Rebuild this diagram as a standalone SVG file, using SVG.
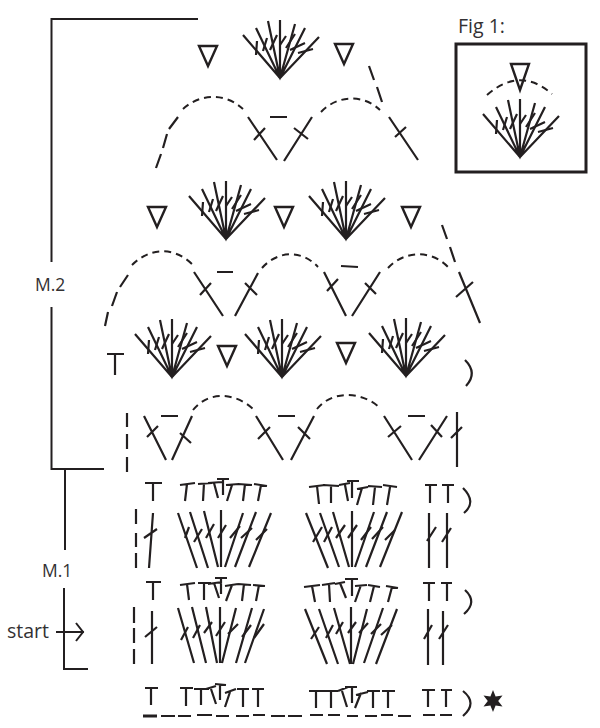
<svg xmlns="http://www.w3.org/2000/svg" xmlns:xlink="http://www.w3.org/1999/xlink" width="600" height="728" viewBox="0 0 600 728">
<style>
path{fill:none;stroke:#231f20;stroke-width:2;stroke-linecap:butt}
.b{stroke-width:2.2}
.d1{stroke-width:2;stroke-dasharray:7 5}
.tri{stroke-width:2.4;stroke-linejoin:miter}
text{font-family:"Open Sans","Liberation Sans",sans-serif;fill:#333133}
.m{font-size:17.5px}
.l{font-size:19.5px}
</style>
<defs>
<g id="fan">
<path class="b" d="M-37,-43L0,0M-24,-50L0,0M-12,-57L0,0M0,-58V0M15,-54L0,0M25,-50L0,0M39,-41L0,0"/>
<path class="b" d="M-24,-23L-23,-37M-17,-27L-13,-40M-10,-28L-3,-43M0,-33L6,-42M6,-30L15,-44M10,-28L25,-35M18,-25L33,-29"/>
<path d="M0,0L-3,-7H3Z" style="fill:#231f20"/>
</g>
<path id="tri" class="tri" d="M-9,0H9L0,20Z"/>
</defs>

<g id="connectors">
<path d="M51.5,262V19H198M51.5,307V469H104M65,469V550M64,588V669H88"/>
<path d="M56,632H84M76,623L83,632L76,641"/>
</g>

<g id="labels">
<text class="m" x="35" y="291">M.2</text>
<text class="m" x="42" y="577">M.1</text>
<text class="l" x="7" y="638">start</text>
<text class="l" x="458" y="33">Fig 1:</text>
</g>

<g id="fig1">
<rect x="456" y="44" width="130" height="128" fill="#fff" stroke="#231f20" stroke-width="3"/>
<path class="tri" d="M511,64H529L520,90Z"/>
<path d="M487,95Q520,66 552,94" class="d1"/>
<use href="#fan" x="520" y="157"/>
</g>

<g id="row-1">
<use href="#tri" x="208" y="46"/>
<use href="#tri" x="344" y="44"/>
<use href="#fan" x="280" y="78"/>
<path class="b" d="M156,168L161,154M163,148L167,134M169,129L178,117"/>
<path class="d1" d="M183,109C197,96 222,90 243,109"/>
<path class="d1" d="M321,112C336,96 362,93 380,110"/>
<path class="b" d="M369,66L374,80M377,87L382,102"/>
<path class="b" d="M248,117L277,160M254,140L265,128M270,117H287M312,117L284,161M294,128L308,139M389,117L418,160M395,137L406,127"/>
</g>

<g id="row-2">
<use href="#tri" x="157" y="207"/>
<use href="#tri" x="284" y="207"/>
<use href="#tri" x="411" y="207"/>
<use href="#fan" x="226" y="239"/>
<use href="#fan" x="346" y="239"/>
<path class="b" d="M105,326L108,312M112,306L117,292M120,287L128,275"/>
<path class="d1" d="M132,265C148,249 172,245 192,264"/>
<path class="d1" d="M262,268C276,252 300,248 318,267"/>
<path class="d1" d="M388,268C402,252 430,248 448,267"/>
<path class="b" d="M442,225L447,239M450,247L455,262"/>
<path class="b" d="M194,272L223,316M200,295L211,283M217,272H233M258,273L235,316M245,283L257,295M324,272L346,316M327,291L338,279M341,266L358,267M380,272L352,316M365,283L376,294M459,272L480,323M456,297L473,282"/>
</g>

<g id="row-3">
<path class="b" d="M107,354H124M115,354V375"/>
<use href="#fan" x="172" y="377"/>
<use href="#fan" x="282" y="377"/>
<use href="#fan" x="406" y="376"/>
<use href="#tri" x="227" y="346"/>
<use href="#tri" x="346" y="343"/>
<path class="b" d="M465,360Q478,373 466,386"/>
</g>

<g id="row-4">
<path class="b" d="M127,413V427M127,434V449M127,457V472"/>
<path class="b" d="M144,416L166,460M147,437L158,426M161,416H178M192,416L172,460M180,433L191,443M256,416L283,460M258,439L270,427M278,416H295M314,416L291,460M298,427L310,439M384,416L412,460M388,437L401,426M408,416H425M447,416L419,460M431,425L442,437M457,412V467M451,438L462,427"/>
<path class="d1" d="M193,410C208,391 235,392 253,409"/>
<path class="d1" d="M317,409C332,390 362,391 380,408"/>
</g>

<g id="row-5-tops">
<path class="b" d="M145,483H162M153,483V501M180,485L195,483M187,484L185,501M198,484L212,483M204,483L203,501M208,483L222,482M214,483L218,498M217,479H229M223,479V495M226,485L239,484M232,485L227,501M238,484L252,485M245,484L243,501M254,484L267,486M261,485L258,501"/>
<path class="b" d="M309,487L325,485M317,486L319,504M323,485L339,486M331,486V503M339,485L350,483M345,485L348,501M347,481H359M352,481V498M357,489L368,487M362,488L357,505M368,486L382,487M375,487L373,505M383,485L397,487M390,487L387,505"/>
<path class="b" d="M425,485H437M430,485V503M442,485H454M448,485V503M463,488Q477,502 464,513"/>
</g>

<g id="row-6-legs">
<path class="b" d="M136,509V524M136,533V547M136,553V568"/>
<path class="b" d="M153,513L149,568M144,538L157,529"/>
<path class="b" d="M178,513L197,568M190,512L208,568M204,511L218,567M221,510V567M243,513L225,567M256,512L235,567M271,513L249,567"/>
<path class="b" d="M185,538L189,527M194,542L202,529M206,538L214,524M218,538L226,525M230,538L240,526M241,538L252,528M256,540L267,529"/>
<path class="b" d="M306,513L328,568M320,513L339,567M333,512L349,567M352,511V567M374,512L355,567M387,512L366,567M402,512L380,567"/>
<path class="b" d="M313,542L322,527M324,542L332,527M336,538L345,525M348,538L357,525M361,540L371,527M372,539L383,527M385,540L395,530"/>
<path class="b" d="M429,513V568M447,513V568M427,541L436,527M442,542L451,528"/>
</g>

<g id="row-7-tops">
<path class="b" d="M146,582H161M153,582V600M180,585L195,583M187,584L189,600M198,583H211M204,583V600M208,584L222,582M214,583L219,598M215,578H227M221,578V594M225,586L238,584M232,585L226,601M238,584L251,585M244,584L242,601M253,585L265,586M259,585L256,601"/>
<path class="b" d="M304,587L320,585M312,586L315,602M322,585L335,583M329,584L330,602M335,584L345,582M340,583L346,598M345,579H358M352,579V596M355,586L367,585M361,585L355,602M368,585L380,587M374,586L370,602M386,586L398,588M392,587L388,602"/>
<path class="b" d="M423,583H435M429,583V601M441,583H452M447,583V601M465,590Q478,602 464,614"/>
</g>

<g id="row-8-legs">
<path class="b" d="M134,607V623M134,628V643M134,649V664"/>
<path class="b" d="M152,611V664M145,637L157,627"/>
<path class="b" d="M178,608L194,663M192,607L206,663M206,607L217,663M220,607V663M236,608L222,663M252,608L236,663M264,609L245,663"/>
<path class="b" d="M181,640L188,627M193,638L200,625M204,633L212,622M216,636L225,622M228,634L238,624M242,637L251,625M254,638L264,624"/>
<path class="b" d="M305,609L327,664M319,609L338,664M334,608L350,664M351,607V664M367,609L353,664M383,608L364,663M397,609L376,664"/>
<path class="b" d="M311,639L319,627M326,638L333,625M336,634L343,622M348,633L356,622M359,633L368,623M371,634L381,624M381,635L392,625"/>
<path class="b" d="M428,609V665M443,611V665M424,639L432,625M439,639L448,625"/>
</g>

<g id="row-9-foundation">
<path class="b" d="M145,688H158M151,688V705M180,688H193M186,688V706M194,689H209M201,689V705M206,689L216,686M211,689L216,704M215,684L226,685M220,685V700M225,693L236,689M230,692L225,707M237,689H249M243,689V707M252,689H264M258,689V707"/>
<path class="b" d="M309,691H323M316,691V708M323,691H338M331,691V708M338,691L348,687M342,691L347,707M345,687H357M352,687V703M356,695L368,692M361,693L355,708M367,691H380M373,691V708M382,691H395M388,691V708M422,690H435M428,690V707M441,690H452M446,690V707"/>
<path class="b" d="M463,691Q478,703 463,716"/>
<path d="M143,716H157" style="stroke-width:3"/>
<path class="b" d="M161,716H175M178,716H191M197,715H212M216,716H229M236,716H249M253,715H265M271,716H285M288,716H302M310,715H323M328,715H340M347,716H358M365,716H377M381,715H393M398,716H411M423,715H435M440,715H452"/>
<polygon points="493,690 495.6,696.5 502.5,695.5 498.2,701 502.5,706.5 495.6,705.5 493,712 490.4,705.5 483.5,706.5 487.8,701 483.5,695.5 490.4,696.5" fill="#231f20"/>
</g>
</svg>
